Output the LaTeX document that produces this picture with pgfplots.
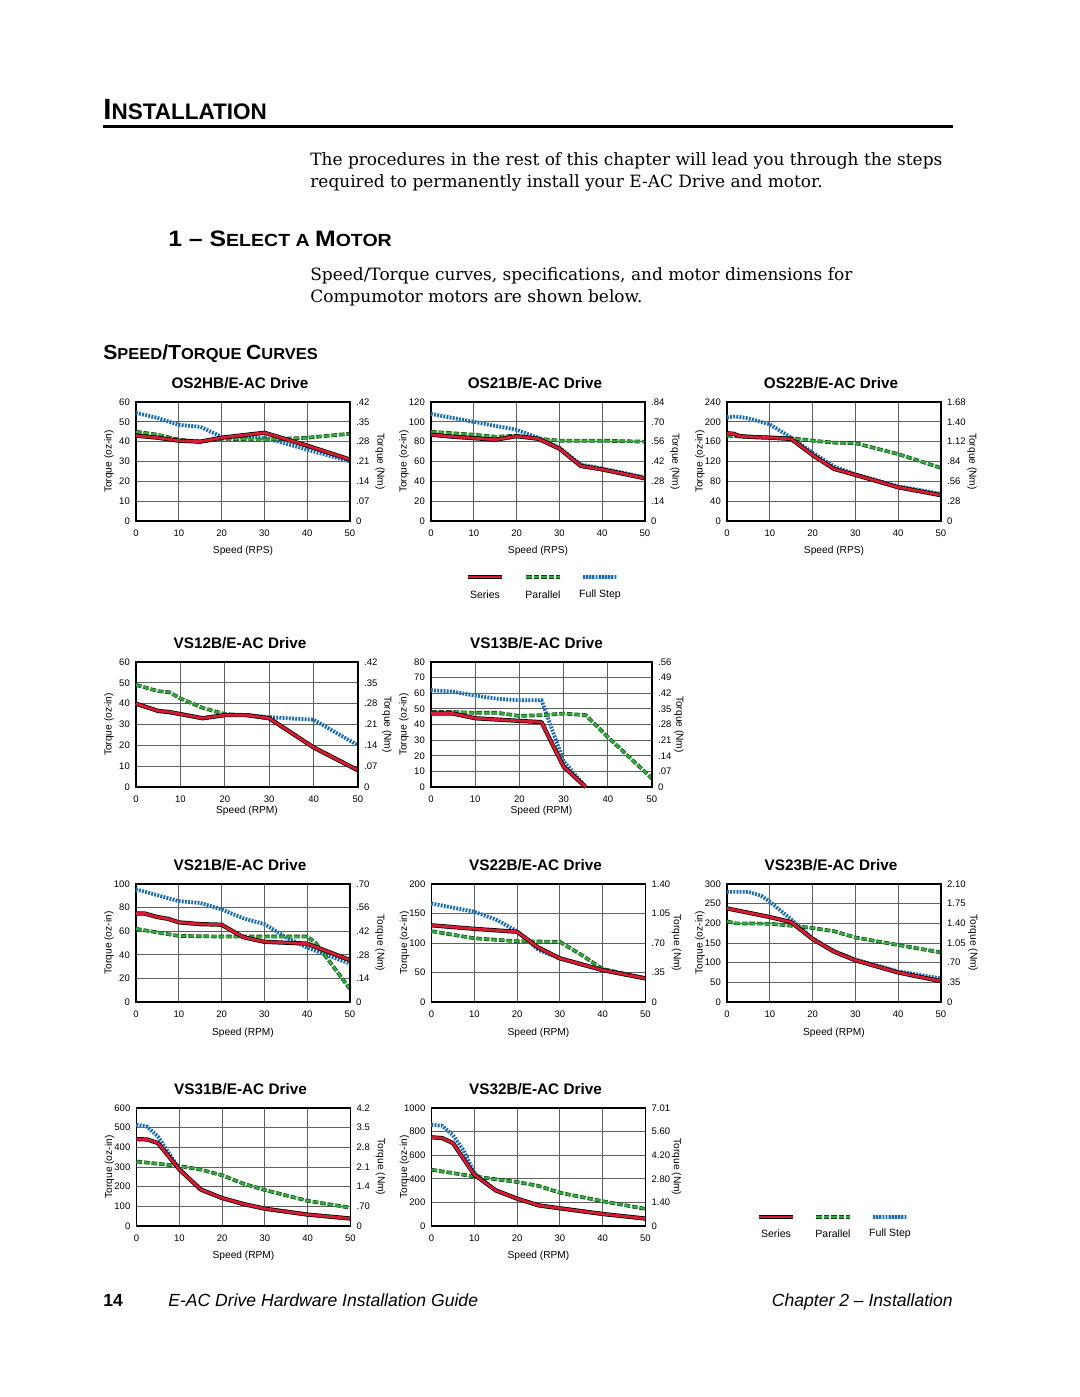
\documentclass[border=0pt]{standalone}
\usepackage{pgfplots}
\pgfplotsset{compat=1.18}
\usepackage{fontspec}
\setmainfont{Liberation Sans}
\newfontfamily\bodyfont{DejaVu Serif}
\def\U{0.5688pt}
\definecolor{sred}{RGB}{214,28,48}
\definecolor{pgreen}{RGB}{52,168,60}
\definecolor{pdark}{RGB}{10,70,20}
\definecolor{fblue}{RGB}{22,105,180}
\definecolor{flight}{RGB}{165,205,235}
\definecolor{gridc}{RGB}{95,95,95}
\tikzset{
  ser/.style={draw=sred, line width=1.6pt, line join=round, preaction={draw=black, line width=2.4pt, line join=round}},
  par/.style={draw=pgreen, line width=1.4pt, dash pattern=on 3.2pt off 1.1pt, preaction={draw=pdark, line width=2.1pt, dash pattern=on 3.2pt off 1.1pt}},
  ful/.style={draw=fblue, line width=2.1pt, dash pattern=on 1pt off 0.8pt, preaction={draw=flight, line width=2.1pt}},
}
\newcommand\tf{\fontsize{6}{7}\selectfont}
\newcommand\tkf{\fontsize{5.4}{6}\selectfont}
\newcommand\lbf{\fontsize{5.8}{6}\selectfont}
\pgfplotsset{
  chart/.style n args={4}{scale only axis, anchor=north west, xmin=0, xmax=50, ymin=0,
     xtick={0,10,20,30,40,50}, clip=false,
     /pgf/number format/assume math mode=true, /pgf/number format/1000 sep={},
     grid=major, major grid style={draw=gridc, line width=0.5pt},
     axis line style={line width=1.1pt}, tick style={draw=none},
     tick label style={font=\tkf},
     xticklabel style={yshift=-1.6pt},
     ylabel={Torque (oz-in)}, xlabel={#3},
     every axis y label/.style={at={([xshift=-27*\U]axis description cs:0,0.5)}, rotate=90, anchor=center, font=\lbf},
     every axis x label/.style={at={([yshift=-#2*\U]axis description cs:0.5,0)}, anchor=center, font=\lbf},
     every axis title/.style={at={([xshift=#1*\U, yshift=19*\U]axis description cs:0.5,1)}, anchor=center, font=\bfseries\fontsize{8.7}{10}\selectfont},
     title={#4}},
  raxis/.style={scale only axis, anchor=north west, xmin=0, xmax=50, ymin=0, hide x axis,
     axis y line*=right, axis line style={line width=1.1pt}, tick style={draw=none},
     /pgf/number format/assume math mode=true,
     tick label style={font=\tkf},
     ylabel={Torque (Nm)},
     every axis y label/.style={at={([xshift=#1*\U]axis description cs:1,0.5)}, rotate=-90, anchor=center, font=\lbf}},
}
\newcommand\hsc[4]{{\fontsize{#1}{#1}\selectfont #3}{\fontsize{#2}{#2}\selectfont #4}}
\begin{document}
\begin{tikzpicture}
\fill[white] (0,0) rectangle (1080*\U,-1397*\U);
\path[use as bounding box] (0,0) rectangle (1080*\U,-1397*\U);
% ---------- page text ----------
\node[anchor=base west, inner sep=0] at (103*\U,-119.5*\U) {\bfseries\hsc{16.7}{12.8}{I}{NSTALLATION}};
\fill (103*\U,-124.5*\U) rectangle (953*\U,-127.5*\U);
\node[anchor=base west, inner sep=0, font=\bodyfont\fontsize{9.65}{10}\selectfont] at (310*\U,-165*\U) {The procedures in the rest of this chapter will lead you through the steps};
\node[anchor=base west, inner sep=0, font=\bodyfont\fontsize{9.65}{10}\selectfont] at (310*\U,-187*\U) {required to permanently install your E-AC Drive and motor.};
\node[anchor=base west, inner sep=0] at (168*\U,-246*\U) {\scalebox{1.11}[1]{\bfseries\hsc{12.7}{10}{1 -- S}{ELECT A }\hsc{12.7}{10}{M}{OTOR}}};
\node[anchor=base west, inner sep=0, font=\bodyfont\fontsize{9.65}{10}\selectfont] at (310*\U,-280*\U) {Speed/Torque curves, specifications, and motor dimensions for};
\node[anchor=base west, inner sep=0, font=\bodyfont\fontsize{9.65}{10}\selectfont] at (310*\U,-302*\U) {Compumotor motors are shown below.};
\node[anchor=base west, inner sep=0] at (103*\U,-359*\U) {\scalebox{1.04}[1]{\bfseries\hsc{11.6}{9}{S}{PEED}\hsc{11.6}{9}{/T}{ORQUE }\hsc{11.6}{9}{C}{URVES}}};
\node[anchor=base west, inner sep=0, font=\bfseries\fontsize{10}{10}\selectfont] at (103*\U,-1306*\U) {14};
\node[anchor=base west, inner sep=0, font=\itshape\fontsize{10}{10}\selectfont] at (168*\U,-1306*\U) {E-AC Drive Hardware Installation Guide};
\node[anchor=base east, inner sep=0, font=\itshape\fontsize{10}{10}\selectfont] at (953*\U,-1306*\U) {Chapter 2 -- Installation};
% ---------- legends ----------
\draw[ser] (468*\U,-577*\U) -- (502*\U,-577*\U);
\draw[par] (526*\U,-577*\U) -- (560*\U,-577*\U);
\draw[ful] (583*\U,-577*\U) -- (617*\U,-577*\U);
\node[font=\tf] at (485*\U,-595*\U) {Series};
\node[font=\tf] at (543*\U,-595*\U) {Parallel};
\node[font=\tf] at (600*\U,-595*\U) {Full Step};
\draw[ser] (759*\U,-1217*\U) -- (793*\U,-1217*\U);
\draw[par] (816*\U,-1217*\U) -- (850*\U,-1217*\U);
\draw[ful] (873*\U,-1217*\U) -- (907*\U,-1217*\U);
\node[font=\tf] at (776*\U,-1234*\U) {Series};
\node[font=\tf] at (833*\U,-1234*\U) {Parallel};
\node[font=\tf] at (890*\U,-1234*\U) {Full Step};
% ---------- OS2HB ----------
\begin{axis}[chart={-3}{30}{Speed (RPS)}{OS2HB/E-AC Drive}, at={(136*\U,-402*\U)}, width=214*\U, height=119*\U, ymax=60, ytick={0,10,...,60}]
\addplot[ful] coordinates {(0,54.5)(5,52)(10,48.5)(15,47.5)(20,42.5)(30,42)(40,36)(50,30)};
\addplot[par] coordinates {(0,45)(5,43.5)(10,41)(15,40)(20,41.5)(30,41)(40,42)(50,44)};
\addplot[ser] coordinates {(0,43)(5,42)(10,40.5)(15,40)(20,42)(30,44.5)(40,38)(50,31)};
\end{axis}
\begin{axis}[raxis=30, at={(136*\U,-402*\U)}, width=214*\U, height=119*\U, ymax=60, ytick={0,10,...,60}, yticklabels={0,.07,.14,.21,.28,.35,.42}]
\end{axis}
% ---------- OS21B ----------
\begin{axis}[chart={-3}{30}{Speed (RPS)}{OS21B/E-AC Drive}, at={(431*\U,-402*\U)}, width=214*\U, height=119*\U, ymax=120, ytick={0,20,...,120}]
\addplot[ful] coordinates {(0,108)(10,100)(20,92)(25,84)(30,74)(35,57)(40,53)(50,44)};
\addplot[par] coordinates {(0,90)(10,87)(15,85)(20,86)(25,83)(30,81)(40,81)(50,80)};
\addplot[ser] coordinates {(0,87)(5,85)(10,83.5)(15,82)(20,85.5)(25,83)(30,73)(35,55.5)(40,52)(50,43)};
\end{axis}
\begin{axis}[raxis=30, at={(431*\U,-402*\U)}, width=214*\U, height=119*\U, ymax=120, ytick={0,20,...,120}, yticklabels={0,.14,.28,.42,.56,.70,.84}]
\end{axis}
% ---------- OS22B ----------
\begin{axis}[chart={-3}{30}{Speed (RPS)}{OS22B/E-AC Drive}, at={(727*\U,-402*\U)}, width=214*\U, height=119*\U, ymax=240, ytick={0,40,...,240}]
\addplot[ful] coordinates {(0,209)(2,211)(5,207)(10,195)(15,168)(20,138)(25,110)(30,94)(40,70)(50,55)};
\addplot[par] coordinates {(0,172)(5,170)(15,167)(20,162)(25,158)(30,157)(40,135)(50,107)};
\addplot[ser] coordinates {(0,177)(1.5,176)(3,171)(7,169)(10,168)(15,165.5)(20,133)(25,105)(30,93)(40,68)(50,52)};
\end{axis}
\begin{axis}[raxis=31, at={(727*\U,-402*\U)}, width=214*\U, height=119*\U, ymax=240, ytick={0,40,...,240}, yticklabels={0,.28,.56,.84,1.12,1.40,1.68}]
\end{axis}
% ---------- VS12B ----------
\begin{axis}[chart={-7}{24}{Speed (RPM)}{VS12B/E-AC Drive}, at={(136*\U,-662*\U)}, width=222*\U, height=125*\U, ymax=60, ytick={0,10,...,60}]
\addplot[ful] coordinates {(0,40)(5,36.5)(10,35)(15,33)(20,34.5)(25,34.5)(30,33.5)(40,32.3)(50,20)};
\addplot[par] coordinates {(0,49)(5,46)(7.5,45.5)(10,42.5)(15,38)(20,35)(25,34.5)(30,33)(40,19)(50,8)};
\addplot[ser] coordinates {(0,40)(5,36.5)(7.5,36)(10,35)(15,33)(20,34.5)(25,34.5)(30,33)(40,19)(50,8)};
\end{axis}
\begin{axis}[raxis=29, at={(136*\U,-662*\U)}, width=222*\U, height=125*\U, ymax=60, ytick={0,10,...,60}, yticklabels={0,.07,.14,.21,.28,.35,.42}]
\end{axis}
% ---------- VS13B ----------
\begin{axis}[chart={-5}{24}{Speed (RPM)}{VS13B/E-AC Drive}, at={(431*\U,-662*\U)}, width=221*\U, height=125*\U, ymax=80, ytick={0,10,...,80}]
\addplot[ful] coordinates {(0,62)(5,61)(10,58.5)(15,56.5)(20,55.5)(25,55.5)(30,16.5)(35,0)};
\addplot[par] coordinates {(0,48)(5,48)(10,47.5)(15,47.5)(20,45.5)(25,46)(30,47)(35,46)(40,32)(50,5.5)};
\addplot[ser] coordinates {(0,47)(5,47)(10,44)(25,41.5)(30,13)(35,0)};
\end{axis}
\begin{axis}[raxis=27, at={(431*\U,-662*\U)}, width=221*\U, height=125*\U, ymax=80, ytick={0,10,...,80}, yticklabels={0,.07,.14,.21,.28,.35,.42,.49,.56}]
\end{axis}
% ---------- VS21B ----------
\begin{axis}[chart={-3}{31}{Speed (RPM)}{VS21B/E-AC Drive}, at={(136*\U,-884*\U)}, width=214*\U, height=118*\U, ymax=100, ytick={0,20,...,100}]
\addplot[ful] coordinates {(0,95.5)(10,85.5)(15,84)(20,78.5)(25,71)(30,66)(35,55)(40,46)(50,32.5)};
\addplot[par] coordinates {(0,62)(5,59)(10,56)(20,55.5)(25,55.5)(30,55.5)(40,55.5)(42,50)(50,11)};
\addplot[ser] coordinates {(0,75)(2,75)(5,72)(7.5,70.5)(10,67.5)(15,66)(20,65.5)(25,55)(30,51)(40,49.5)(50,35.5)};
\end{axis}
\begin{axis}[raxis=30, at={(136*\U,-884*\U)}, width=214*\U, height=118*\U, ymax=100, ytick={0,20,...,100}, yticklabels={0,.14,.28,.42,.56,.70}]
\end{axis}
% ---------- VS22B ----------
\begin{axis}[chart={-3}{31}{Speed (RPM)}{VS22B/E-AC Drive}, at={(431.5*\U,-884*\U)}, width=214*\U, height=118*\U, ymax=200, ytick={0,50,...,200}]
\addplot[ful] coordinates {(0,167)(10,153)(15,140)(20,120)(25,88)(30,74)(40,54)(50,40)};
\addplot[par] coordinates {(0,120)(10,108)(20,103)(30,102)(35,80)(40,56)(50,40)};
\addplot[ser] coordinates {(0,130)(10,124)(20,119)(25,92)(30,74)(40,54)(50,40)};
\end{axis}
\begin{axis}[raxis=31, at={(431.5*\U,-884*\U)}, width=214*\U, height=118*\U, ymax=200, ytick={0,50,...,200}, yticklabels={0,.35,.70,1.05,1.40}]
\end{axis}
% ---------- VS23B ----------
\begin{axis}[chart={-3}{31}{Speed (RPM)}{VS23B/E-AC Drive}, at={(727*\U,-884*\U)}, width=214*\U, height=118*\U, ymax=300, ytick={0,50,...,300}]
\addplot[ful] coordinates {(0,280)(5,280)(8,270)(10,255)(15,210)(20,162)(25,130)(30,108)(40,78)(50,60)};
\addplot[par] coordinates {(0,205)(2,200)(10,199)(15,194)(20,188)(25,180)(30,164)(40,145)(50,126)};
\addplot[ser] coordinates {(0,238)(10,216)(15,203)(20,160)(25,128)(30,106)(40,75)(50,53)};
\end{axis}
\begin{axis}[raxis=32, at={(727*\U,-884*\U)}, width=214*\U, height=118*\U, ymax=300, ytick={0,50,...,300}, yticklabels={0,.35,.70,1.05,1.40,1.75,2.10}]
\end{axis}
% ---------- VS31B ----------
\begin{axis}[chart={-3}{30}{Speed (RPM)}{VS31B/E-AC Drive}, at={(136.5*\U,-1108*\U)}, width=214*\U, height=118*\U, ymax=600, ytick={0,100,...,600}]
\addplot[ful] coordinates {(0,515)(2.5,505)(5,455)(7,390)(10,290)(15,185)(20,142)(25,110)(30,88)(40,58)(50,38)};
\addplot[par] coordinates {(0,328)(10,305)(15,287)(20,258)(25,215)(30,183)(40,128)(50,93)};
\addplot[ser] coordinates {(0,442)(2.5,440)(5,422)(10,288)(15,186)(20,142)(25,112)(30,88)(40,58)(50,38)};
\end{axis}
\begin{axis}[raxis=30, at={(136.5*\U,-1108*\U)}, width=214*\U, height=118*\U, ymax=600, ytick={0,100,...,600}, yticklabels={0,.70,1.4,2.1,2.8,3.5,4.2}]
\end{axis}
% ---------- VS32B ----------
\begin{axis}[chart={-3}{30}{Speed (RPM)}{VS32B/E-AC Drive}, at={(431.5*\U,-1108*\U)}, width=214*\U, height=118*\U, ymax=1000, ytick={0,200,...,1000}]
\addplot[ful] coordinates {(0,857)(2.5,850)(5,770)(7.5,640)(10,450)(15,302)(20,232)(25,175)(30,150)(40,102)(50,63)};
\addplot[par] coordinates {(0,477)(10,420)(20,373)(25,340)(30,282)(40,210)(50,145)};
\addplot[ser] coordinates {(0,752)(2.5,745)(5,703)(10,435)(15,302)(20,232)(25,175)(30,150)(40,102)(50,63)};
\end{axis}
\begin{axis}[raxis=31, at={(431.5*\U,-1108*\U)}, width=214*\U, height=118*\U, ymax=1000, ytick={0,200,...,1000}, yticklabels={0,1.40,2.80,4.20,5.60,7.01}]
\end{axis}
\end{tikzpicture}
\end{document}
